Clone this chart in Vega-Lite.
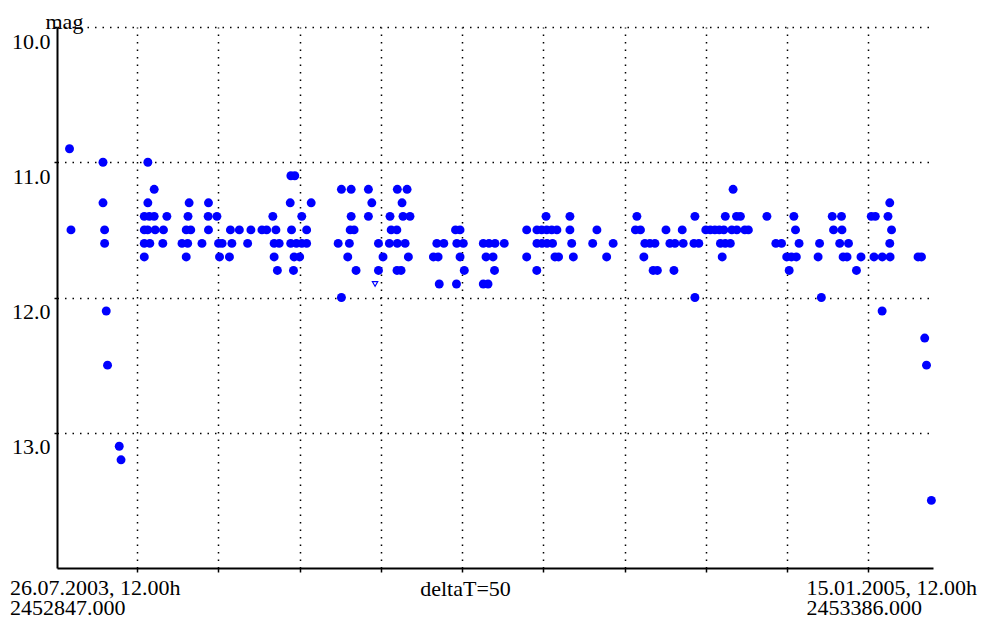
{
 "$schema": "https://vega.github.io/schema/vega-lite/v6.json",
 "autosize": {"type": "none"},
 "padding": {"left": 57, "top": 27, "right": 50, "bottom": 49},
 "width": 876,
 "height": 541,
 "background": "white",
 "config": {"view": {"stroke": null}, "font": "Liberation Serif"},
 "datasets": {
  "obs": [
   {"jd":2452854.7,"mag":10.9},{"jd":2452855.6,"mag":11.5},{"jd":2452875.3,"mag":11.0},{"jd":2452875.3,"mag":11.3},
   {"jd":2452876.3,"mag":11.5},{"jd":2452876.3,"mag":11.6},{"jd":2452877.3,"mag":12.1},{"jd":2452878.1,"mag":12.5},
   {"jd":2452885.3,"mag":13.1},{"jd":2452886.4,"mag":13.2},{"jd":2452900.7,"mag":11.4},{"jd":2452903.8,"mag":11.4},
   {"jd":2452906.8,"mag":11.4},{"jd":2452900.7,"mag":11.5},{"jd":2452902.8,"mag":11.5},{"jd":2452907.4,"mag":11.5},
   {"jd":2452912.5,"mag":11.5},{"jd":2452900.7,"mag":11.6},{"jd":2452904.1,"mag":11.6},{"jd":2452912.1,"mag":11.6},
   {"jd":2452900.7,"mag":11.7},{"jd":2452902.9,"mag":11.0},{"jd":2452902.9,"mag":11.3},{"jd":2452906.8,"mag":11.2},
   {"jd":2452914.6,"mag":11.4},{"jd":2452928.3,"mag":11.3},{"jd":2452927.6,"mag":11.4},{"jd":2452926.5,"mag":11.5},
   {"jd":2452929.3,"mag":11.5},{"jd":2452923.9,"mag":11.6},{"jd":2452927.4,"mag":11.6},{"jd":2452926.5,"mag":11.7},
   {"jd":2452936.2,"mag":11.6},{"jd":2452940.2,"mag":11.3},{"jd":2452940.0,"mag":11.4},{"jd":2452945.4,"mag":11.4},
   {"jd":2452940.2,"mag":11.5},{"jd":2452946.4,"mag":11.6},{"jd":2452948.6,"mag":11.6},{"jd":2452947.0,"mag":11.7},
   {"jd":2452953.7,"mag":11.5},{"jd":2452959.2,"mag":11.5},{"jd":2452954.6,"mag":11.6},{"jd":2452953.1,"mag":11.7},
   {"jd":2452966.3,"mag":11.5},{"jd":2452964.3,"mag":11.6},{"jd":2452973.1,"mag":11.5},{"jd":2452976.0,"mag":11.5},
   {"jd":2452979.8,"mag":11.4},{"jd":2452981.7,"mag":11.5},{"jd":2452980.6,"mag":11.6},{"jd":2452983.7,"mag":11.6},
   {"jd":2452980.6,"mag":11.7},{"jd":2452982.6,"mag":11.8},{"jd":2452990.9,"mag":11.1},{"jd":2452993.3,"mag":11.1},
   {"jd":2452990.5,"mag":11.3},{"jd":2452991.3,"mag":11.5},{"jd":2452990.8,"mag":11.6},{"jd":2452994.3,"mag":11.6},
   {"jd":2452997.6,"mag":11.6},{"jd":2453000.6,"mag":11.6},{"jd":2452992.9,"mag":11.7},{"jd":2452996.3,"mag":11.7},
   {"jd":2452992.5,"mag":11.8},{"jd":2452997.6,"mag":11.4},{"jd":2453000.6,"mag":11.5},{"jd":2453003.4,"mag":11.3},
   {"jd":2453020.0,"mag":11.6},{"jd":2453022.0,"mag":11.2},{"jd":2453022.0,"mag":12.0},{"jd":2453025.9,"mag":11.7},
   {"jd":2453026.9,"mag":11.6},{"jd":2453027.4,"mag":11.5},{"jd":2453029.8,"mag":11.5},{"jd":2453028.0,"mag":11.4},
   {"jd":2453028.0,"mag":11.2},{"jd":2453031.0,"mag":11.8},{"jd":2453038.6,"mag":11.2},{"jd":2453038.6,"mag":11.4},
   {"jd":2453040.7,"mag":11.3},{"jd":2453044.8,"mag":11.6},{"jd":2453044.8,"mag":11.8},{"jd":2453047.6,"mag":11.7},
   {"jd":2453051.9,"mag":11.4},{"jd":2453052.6,"mag":11.5},{"jd":2453056.1,"mag":11.5},{"jd":2453051.5,"mag":11.6},
   {"jd":2453056.4,"mag":11.6},{"jd":2453061.2,"mag":11.6},{"jd":2453056.2,"mag":11.8},{"jd":2453058.7,"mag":11.8},
   {"jd":2453056.4,"mag":11.2},{"jd":2453062.4,"mag":11.2},{"jd":2453059.3,"mag":11.3},{"jd":2453059.9,"mag":11.4},
   {"jd":2453064.2,"mag":11.4},{"jd":2453063.2,"mag":11.7},{"jd":2453080.7,"mag":11.6},{"jd":2453085.0,"mag":11.6},
   {"jd":2453078.6,"mag":11.7},{"jd":2453081.5,"mag":11.7},{"jd":2453082.2,"mag":11.9},{"jd":2453092.2,"mag":11.5},
   {"jd":2453095.0,"mag":11.5},{"jd":2453093.0,"mag":11.6},{"jd":2453097.0,"mag":11.6},{"jd":2453095.0,"mag":11.7},
   {"jd":2453097.6,"mag":11.8},{"jd":2453092.8,"mag":11.9},{"jd":2453109.3,"mag":11.6},{"jd":2453112.8,"mag":11.6},
   {"jd":2453116.5,"mag":11.6},{"jd":2453111.0,"mag":11.7},{"jd":2453115.3,"mag":11.7},{"jd":2453116.2,"mag":11.8},
   {"jd":2453109.3,"mag":11.9},{"jd":2453112.2,"mag":11.9},{"jd":2453122.2,"mag":11.6},{"jd":2453136.0,"mag":11.5},
   {"jd":2453136.0,"mag":11.7},{"jd":2453142.2,"mag":11.8},{"jd":2453142.3,"mag":11.5},{"jd":2453145.2,"mag":11.5},
   {"jd":2453148.3,"mag":11.5},{"jd":2453151.4,"mag":11.5},{"jd":2453154.6,"mag":11.5},{"jd":2453142.3,"mag":11.6},
   {"jd":2453145.4,"mag":11.6},{"jd":2453148.5,"mag":11.6},{"jd":2453151.9,"mag":11.6},{"jd":2453147.9,"mag":11.4},
   {"jd":2453153.4,"mag":11.7},{"jd":2453155.6,"mag":11.7},{"jd":2453162.6,"mag":11.4},{"jd":2453162.6,"mag":11.5},
   {"jd":2453163.7,"mag":11.6},{"jd":2453164.7,"mag":11.7},{"jd":2453179.2,"mag":11.5},{"jd":2453176.6,"mag":11.6},
   {"jd":2453185.2,"mag":11.7},{"jd":2453189.2,"mag":11.6},{"jd":2453203.8,"mag":11.4},{"jd":2453202.9,"mag":11.5},
   {"jd":2453206.0,"mag":11.5},{"jd":2453208.1,"mag":11.7},{"jd":2453208.7,"mag":11.6},{"jd":2453211.8,"mag":11.6},
   {"jd":2453214.9,"mag":11.6},{"jd":2453213.8,"mag":11.8},{"jd":2453216.4,"mag":11.8},{"jd":2453221.7,"mag":11.5},
   {"jd":2453224.1,"mag":11.6},{"jd":2453227.2,"mag":11.6},{"jd":2453226.6,"mag":11.8},{"jd":2453231.7,"mag":11.5},
   {"jd":2453232.3,"mag":11.6},{"jd":2453238.9,"mag":11.6},{"jd":2453241.9,"mag":11.6},{"jd":2453239.5,"mag":11.4},
   {"jd":2453239.5,"mag":12.0},{"jd":2453246.2,"mag":11.5},{"jd":2453249.0,"mag":11.5},{"jd":2453251.8,"mag":11.5},
   {"jd":2453254.5,"mag":11.5},{"jd":2453257.3,"mag":11.5},{"jd":2453262.2,"mag":11.5},{"jd":2453265.3,"mag":11.5},
   {"jd":2453270.2,"mag":11.5},{"jd":2453272.4,"mag":11.5},{"jd":2453255.2,"mag":11.6},{"jd":2453258.2,"mag":11.6},
   {"jd":2453261.3,"mag":11.6},{"jd":2453256.3,"mag":11.7},{"jd":2453258.2,"mag":11.4},{"jd":2453265.1,"mag":11.4},
   {"jd":2453267.5,"mag":11.4},{"jd":2453263.0,"mag":11.2},{"jd":2453283.8,"mag":11.4},{"jd":2453289.3,"mag":11.6},
   {"jd":2453292.8,"mag":11.6},{"jd":2453296.0,"mag":11.7},{"jd":2453298.9,"mag":11.7},{"jd":2453301.9,"mag":11.7},
   {"jd":2453297.5,"mag":11.8},{"jd":2453300.4,"mag":11.4},{"jd":2453301.4,"mag":11.5},{"jd":2453303.6,"mag":11.6},
   {"jd":2453315.3,"mag":11.7},{"jd":2453316.2,"mag":11.6},{"jd":2453317.3,"mag":12.0},{"jd":2453324.0,"mag":11.4},
   {"jd":2453329.7,"mag":11.4},{"jd":2453324.8,"mag":11.5},{"jd":2453330.0,"mag":11.5},{"jd":2453328.6,"mag":11.6},
   {"jd":2453334.0,"mag":11.6},{"jd":2453330.7,"mag":11.7},{"jd":2453333.1,"mag":11.7},{"jd":2453338.9,"mag":11.8},
   {"jd":2453341.7,"mag":11.7},{"jd":2453348.0,"mag":11.4},{"jd":2453350.5,"mag":11.4},{"jd":2453349.7,"mag":11.7},
   {"jd":2453354.8,"mag":11.7},{"jd":2453354.7,"mag":12.1},{"jd":2453358.3,"mag":11.4},{"jd":2453359.4,"mag":11.3},
   {"jd":2453360.5,"mag":11.5},{"jd":2453359.4,"mag":11.6},{"jd":2453359.6,"mag":11.7},{"jd":2453376.8,"mag":11.7},
   {"jd":2453378.9,"mag":11.7},{"jd":2453380.9,"mag":12.3},{"jd":2453382.0,"mag":12.5},{"jd":2453385.0,"mag":13.5}
  ],
  "limit": [{"jd":2453042.7,"mag":11.9}],
  "startLabel": [{"jd":2452847,"mag":14,"label":"26.07.2003, 12.00h\n2452847.000"}],
  "endLabel": [{"jd":2453386,"mag":14,"label":"15.01.2005, 12.00h\n2453386.000"}]
 },
 "encoding": {
  "x": {
   "field": "jd", "type": "quantitative",
   "scale": {"domain": [2452847, 2453386], "nice": false, "zero": false},
   "axis": {
    "title": "deltaT=50",
    "values": [2452896.3, 2452946.3, 2452996.3, 2453046.3, 2453096.3, 2453146.3, 2453196.3, 2453246.3, 2453296.3, 2453346.3],
    "labels": false,
    "grid": true, "gridColor": "black", "gridDash": [1.5, 6], "gridWidth": 1.5, "gridOpacity": 1,
    "domainColor": "black", "domainWidth": 2,
    "tickColor": "black", "tickSize": 4, "tickWidth": 1.5,
    "titleFont": "Liberation Serif", "titleFontSize": 22, "titleFontWeight": "normal", "titleColor": "black",
    "titleX": 408, "titleY": 27, "titleAlign": "center", "titleBaseline": "alphabetic"
   }
  },
  "y": {
   "field": "mag", "type": "quantitative",
   "scale": {"domain": [10, 14], "reverse": true, "nice": false, "zero": false},
   "axis": {
    "title": "mag",
    "values": [10, 11, 12, 13],
    "format": ".1f",
    "grid": true, "gridColor": "black", "gridDash": [1.5, 6], "gridWidth": 1.5, "gridOpacity": 1,
    "domainColor": "black", "domainWidth": 2,
    "tickColor": "black", "tickSize": 3, "tickWidth": 1.5,
    "labelFont": "Liberation Serif", "labelFontSize": 22, "labelColor": "black",
    "labelBaseline": "alphabetic", "labelOffset": 21, "labelPadding": 4, "labelOverlap": false, "labelFlush": false,
    "titleFont": "Liberation Serif", "titleFontSize": 22, "titleFontWeight": "normal", "titleColor": "black",
    "titleAngle": 0, "titleX": -12, "titleY": 1.5, "titleAlign": "left", "titleBaseline": "alphabetic"
   }
  }
 },
 "layer": [
  {"data": {"name": "obs"}, "mark": {"type": "circle", "size": 80, "color": "#0000ff", "opacity": 1}},
  {"data": {"name": "limit"}, "mark": {"type": "point", "shape": "triangle-down", "filled": false, "size": 28, "color": "#0000ff", "strokeWidth": 1.2, "opacity": 1}},
  {"data": {"name": "startLabel"}, "mark": {"type": "text", "align": "left", "baseline": "alphabetic", "dx": -47, "dy": 27, "fontSize": 22, "font": "Liberation Serif", "lineBreak": "\n", "lineHeight": 20, "color": "black"}, "encoding": {"text": {"field": "label", "type": "nominal"}}},
  {"data": {"name": "endLabel"}, "mark": {"type": "text", "align": "left", "baseline": "alphabetic", "dx": -126.5, "dy": 27, "fontSize": 22, "font": "Liberation Serif", "lineBreak": "\n", "lineHeight": 20, "color": "black"}, "encoding": {"text": {"field": "label", "type": "nominal"}}}
 ]
}
